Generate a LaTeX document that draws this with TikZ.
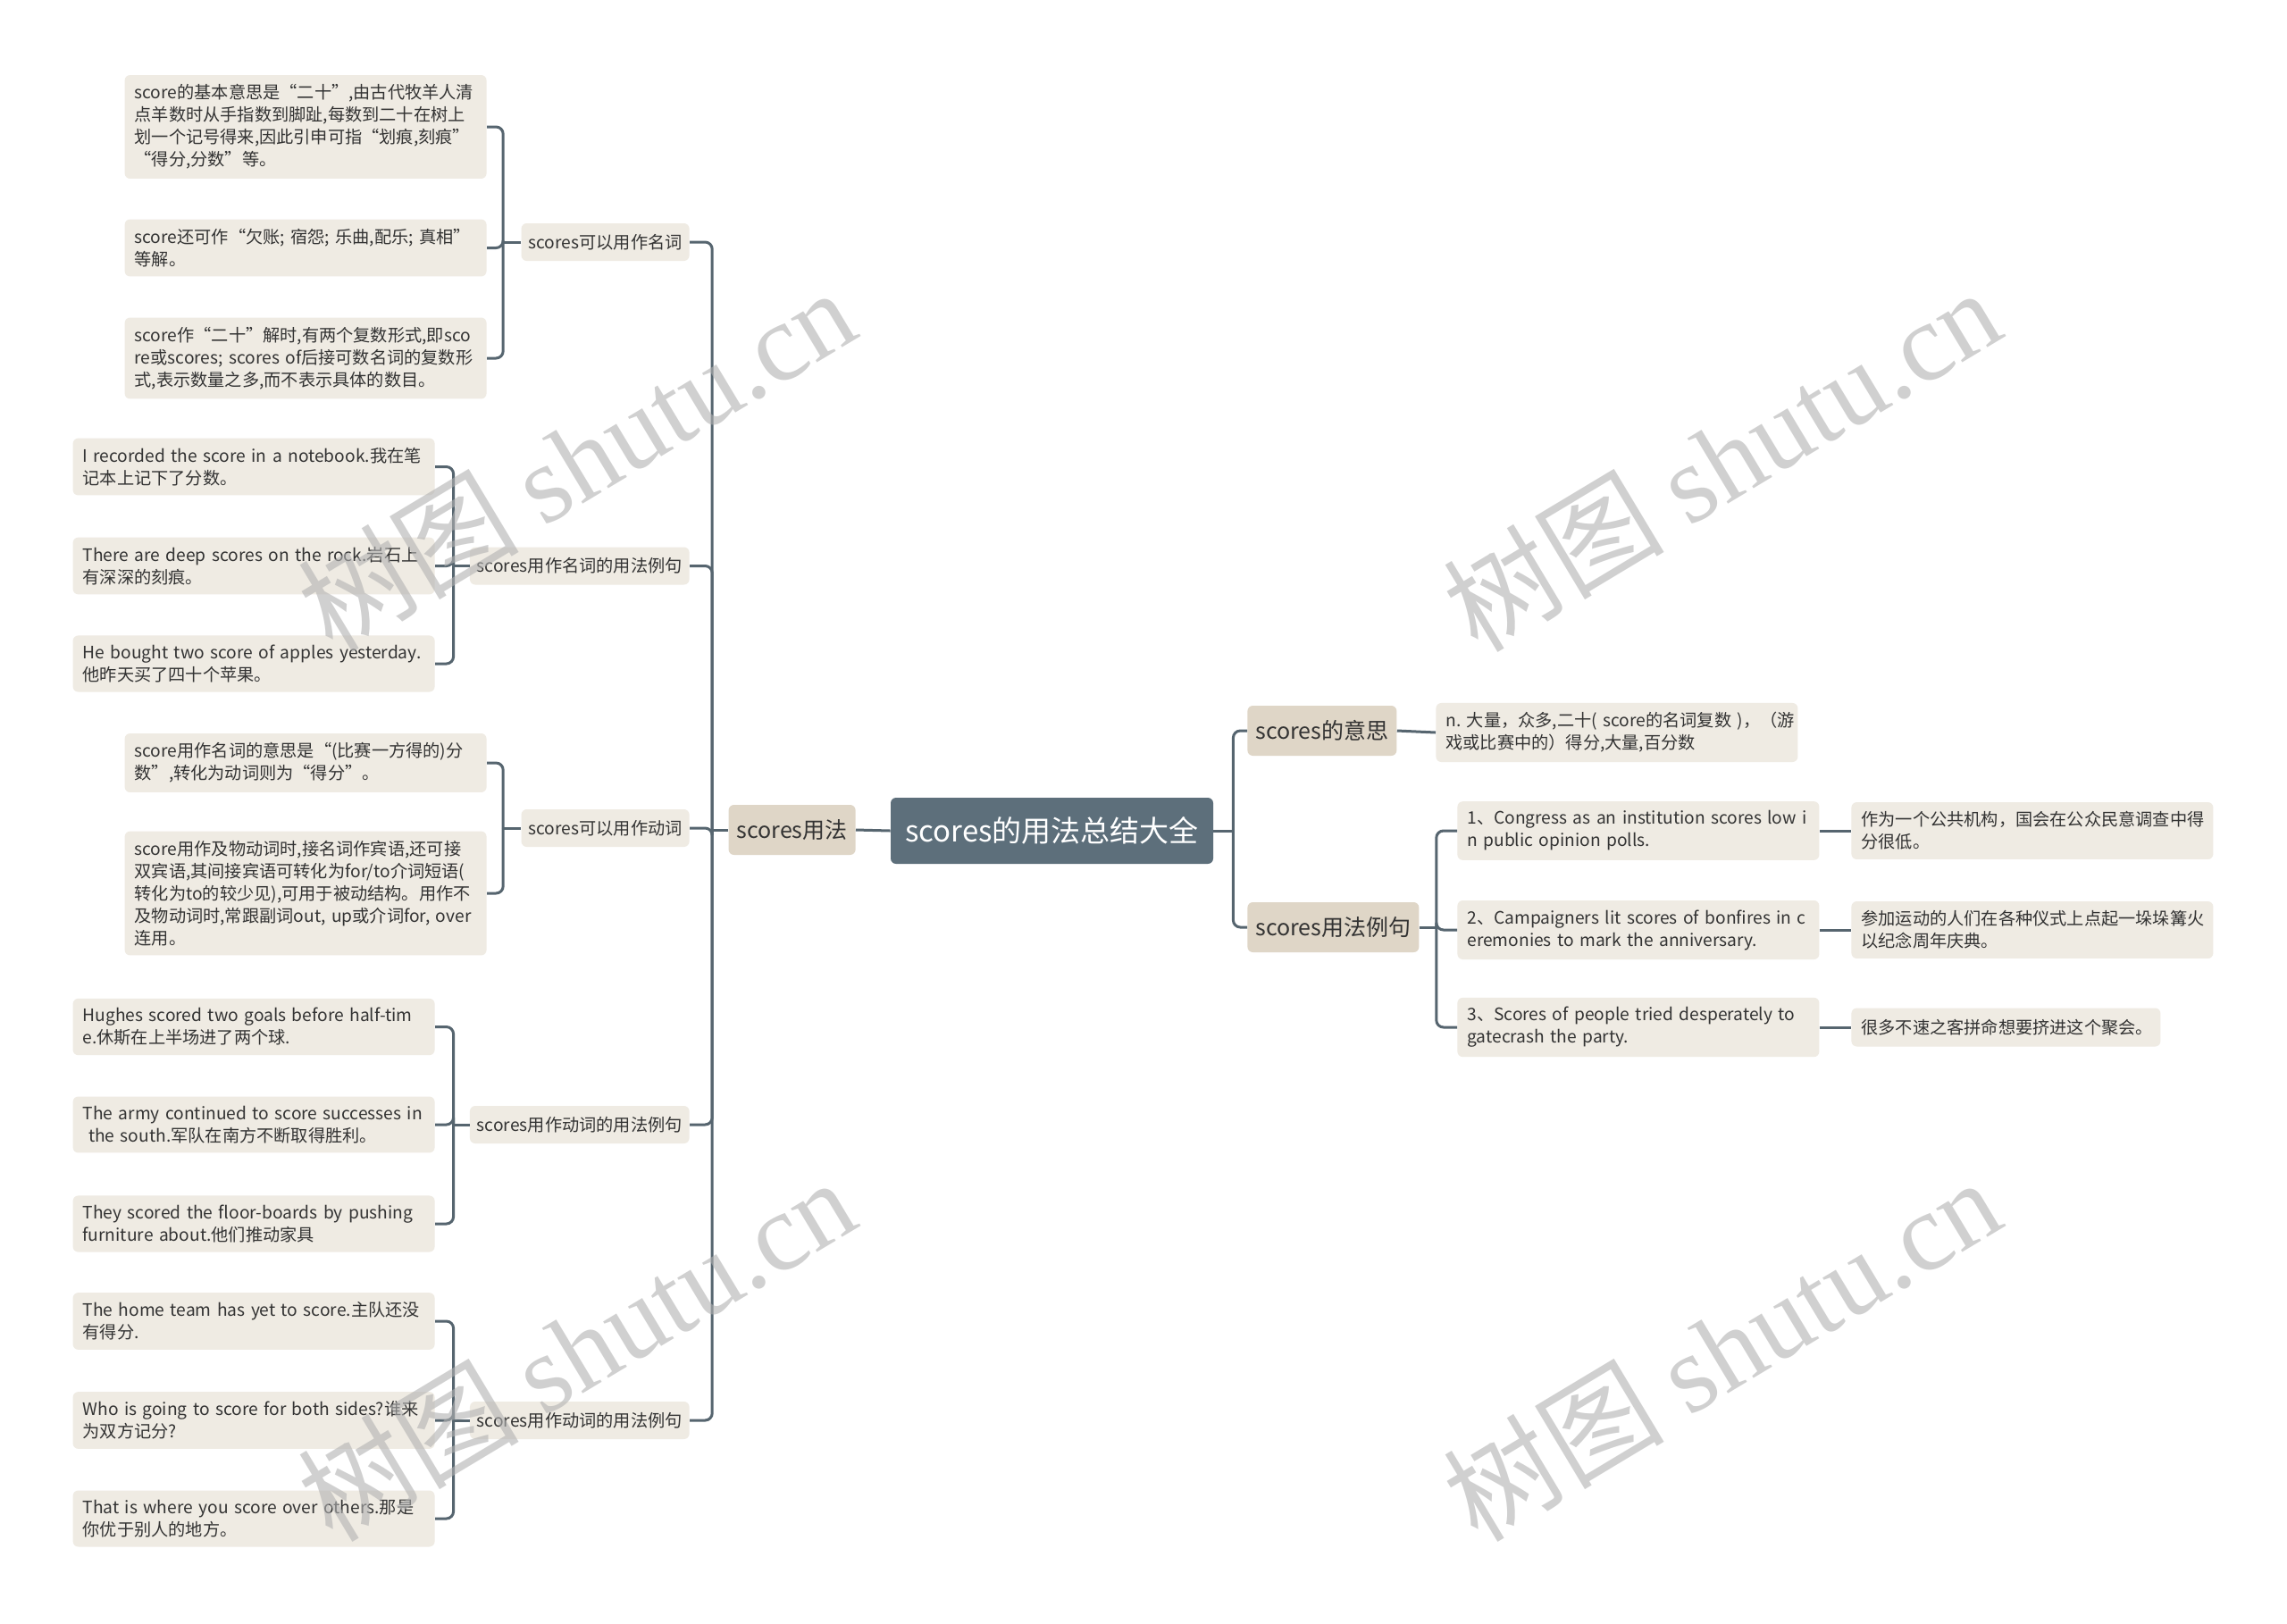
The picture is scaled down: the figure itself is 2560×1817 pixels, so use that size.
\documentclass[tikz,border=0pt]{standalone}
\usepackage{fontspec}
\setmainfont{Noto Sans CJK SC}
\newfontfamily\wmfont{Liberation Serif}
\frenchspacing

\definecolor{rootbg}{HTML}{5D6F7B}
\definecolor{mainbg}{HTML}{DFD6C7}
\definecolor{leafbg}{HTML}{EFEBE3}
\definecolor{linkcol}{HTML}{56656F}
\definecolor{txtcol}{HTML}{333333}

\tikzset{
  rootnode/.style={fill=rootbg, text=white, rounded corners=3pt,
    font=\fontsize{16.5}{20}\selectfont, minimum width=180.5pt,
    minimum height=37pt},
  mainnode/.style={fill=mainbg, text=txtcol, rounded corners=3pt,
    font=\fontsize{12.5}{15}\selectfont, minimum height=28pt, inner xsep=4.5pt},
  subnode/.style={fill=leafbg, text=txtcol, rounded corners=3pt,
    font=\fontsize{9.6}{12.5}\selectfont, minimum height=21pt, inner xsep=4pt},
  leaf/.style={fill=leafbg, text=txtcol, rounded corners=3pt,
    font=\fontsize{9.6}{12.5}\selectfont, text width=191.5pt, align=left,
    inner xsep=5.5pt, inner ysep=5.25pt, minimum height=21.5pt},
  link/.style={draw=linkcol, line width=1.5pt, rounded corners=4pt},
  wmark/.style={text=black!30, opacity=0.6, rotate=31,
    font=\fontsize{62}{70}\selectfont}
}

\begin{document}
\begin{tikzpicture}[x=0.5pt,y=-0.5pt]
\fill[white] (0,0) rectangle (2560,1817);
\useasboundingbox (0,0) rectangle (2560,1817);

% centre and first level
\node[rootnode] (root) at (1177.5,930) {scores的用法总结大全};
\node[mainnode,anchor=east] (use) at (958,929) {scores用法};
\node[mainnode,anchor=west] (mean) at (1396,818) {scores的意思};
\node[mainnode,anchor=west] (exs) at (1396,1038) {scores用法例句};

% left, second level
\node[subnode,anchor=east] (L1) at (772,271) {scores可以用作名词};
\node[subnode,anchor=east] (L2) at (772,633.5) {scores用作名词的用法例句};
\node[subnode,anchor=east] (L3) at (772,927) {scores可以用作动词};
\node[subnode,anchor=east] (L4) at (772,1259) {scores用作动词的用法例句};
\node[subnode,anchor=east] (L5) at (772,1590) {scores用作动词的用法例句};

% left leaves
\node[leaf,anchor=east] (L1a) at (545,142) {score的基本意思是“二十”,由古代牧羊人清\\点羊数时从手指数到脚趾,每数到二十在树上\\划一个记号得来,因此引申可指“划痕,刻痕”\\“得分,分数”等。};
\node[leaf,anchor=east] (L1b) at (545,277.5) {score还可作“欠账; 宿怨; 乐曲,配乐; 真相”\\等解。};
\node[leaf,anchor=east] (L1c) at (545,401) {score作“二十”解时,有两个复数形式,即sco\\re或scores; scores of后接可数名词的复数形\\式,表示数量之多,而不表示具体的数目。};

\node[leaf,anchor=east] (L2a) at (487,522.5) {I recorded the score in a notebook.我在笔\\记本上记下了分数。};
\node[leaf,anchor=east] (L2b) at (487,633.5) {There are deep scores on the rock.岩石上\\有深深的刻痕。};
\node[leaf,anchor=east] (L2c) at (487,743) {He bought two score of apples yesterday.\\他昨天买了四十个苹果。};

\node[leaf,anchor=east] (L3a) at (545,854) {score用作名词的意思是“(比赛一方得的)分\\数”,转化为动词则为“得分”。};
\node[leaf,anchor=east] (L3b) at (545,1000) {score用作及物动词时,接名词作宾语,还可接\\双宾语,其间接宾语可转化为for/to介词短语(\\转化为to的较少见),可用于被动结构。用作不\\及物动词时,常跟副词out, up或介词for, over\\连用。};

\node[leaf,anchor=east] (L4a) at (487,1149.5) {Hughes scored two goals before half-tim\\e.休斯在上半场进了两个球.};
\node[leaf,anchor=east] (L4b) at (487,1259) {The army continued to score successes in\\\ the south.军队在南方不断取得胜利。};
\node[leaf,anchor=east] (L4c) at (487,1370) {They scored the floor-boards by pushing\\furniture about.他们推动家具};

\node[leaf,anchor=east] (L5a) at (487,1479) {The home team has yet to score.主队还没\\有得分.};
\node[leaf,anchor=east] (L5b) at (487,1590) {Who is going to score for both sides?谁来\\为双方记分?};
\node[leaf,anchor=east] (L5c) at (487,1700) {That is where you score over others.那是\\你优于别人的地方。};

% right side
\node[leaf,anchor=west] (R1a) at (1607,820) {\mbox{n. 大量，众多,二十( score的名词复数 )，（游}\\戏或比赛中的）得分,大量,百分数};
\node[leaf,anchor=west] (R2a) at (1631,930) {1、Congress as an institution scores low i\\n public opinion polls.};
\node[leaf,anchor=west] (R2b) at (1631,1041) {2、Campaigners lit scores of bonfires in c\\eremonies to mark the anniversary.};
\node[leaf,anchor=west] (R2c) at (1631,1150) {3、Scores of people tried desperately to\\gatecrash the party.};
\node[leaf,anchor=west] (T1) at (2072,930) {作为一个公共机构，国会在公众民意调查中得\\分很低。};
\node[leaf,anchor=west] (T2) at (2072,1041) {参加运动的人们在各种仪式上点起一垛垛篝火\\以纪念周年庆典。};
\node[leaf,anchor=west,text width=162pt] (T3) at (2072,1150) {很多不速之客拼命想要挤进这个聚会。};

% junction points
\path (use.west) ++(-18,0) coordinate (jU);
\path (L1.west) ++(-20,0) coordinate (j1);
\path (L2.west) ++(-18,0) coordinate (j2);
\path (L3.west) ++(-20,0) coordinate (j3);
\path (L4.west) ++(-18,0) coordinate (j4);
\path (L5.west) ++(-18,0) coordinate (j5);
\path (root.east) ++(22,0) coordinate (jR);
\path (exs.east) ++(19,0) coordinate (jE);

% connectors
\draw[link] (root.west) -- (use.east);
\draw[link] (use.west) -- (jU);
\draw[link] (jU) |- (L1.east);
\draw[link] (jU) |- (L2.east);
\draw[link] (jU) |- (L3.east);
\draw[link] (jU) |- (L4.east);
\draw[link] (jU) |- (L5.east);

\draw[link] (L1.west) -- (j1);
\draw[link] (j1) |- (L1a.east);
\draw[link] (j1) |- (L1b.east);
\draw[link] (j1) |- (L1c.east);
\draw[link] (L2.west) -- (j2);
\draw[link] (j2) |- (L2a.east);
\draw[link] (j2) |- (L2b.east);
\draw[link] (j2) |- (L2c.east);
\draw[link] (L3.west) -- (j3);
\draw[link] (j3) |- (L3a.east);
\draw[link] (j3) |- (L3b.east);
\draw[link] (L4.west) -- (j4);
\draw[link] (j4) |- (L4a.east);
\draw[link] (j4) |- (L4b.east);
\draw[link] (j4) |- (L4c.east);
\draw[link] (L5.west) -- (j5);
\draw[link] (j5) |- (L5a.east);
\draw[link] (j5) |- (L5b.east);
\draw[link] (j5) |- (L5c.east);

\draw[link] (root.east) -- (jR);
\draw[link] (jR) |- (mean.west);
\draw[link] (jR) |- (exs.west);
\draw[link] (mean.east) -- (R1a.west);
\draw[link] (exs.east) -- (jE);
\draw[link] (jE) |- (R2a.west);
\draw[link] (jE) |- (R2b.west);
\draw[link] (jE) |- (R2c.west);
\draw[link] (R2a.east) -- (T1.west);
\draw[link] (R2b.east) -- (T2.west);
\draw[link] (R2c.east) -- (T3.west);

% watermarks
\node[wmark] (wm1) at (645,514) {树图 {\wmfont shutu.cn}};
\node[wmark] (wm2) at (1927,514) {树图 {\wmfont shutu.cn}};
\node[wmark] (wm3) at (645,1510) {树图 {\wmfont shutu.cn}};
\node[wmark] (wm4) at (1927,1510) {树图 {\wmfont shutu.cn}};
\end{tikzpicture}
\end{document}
